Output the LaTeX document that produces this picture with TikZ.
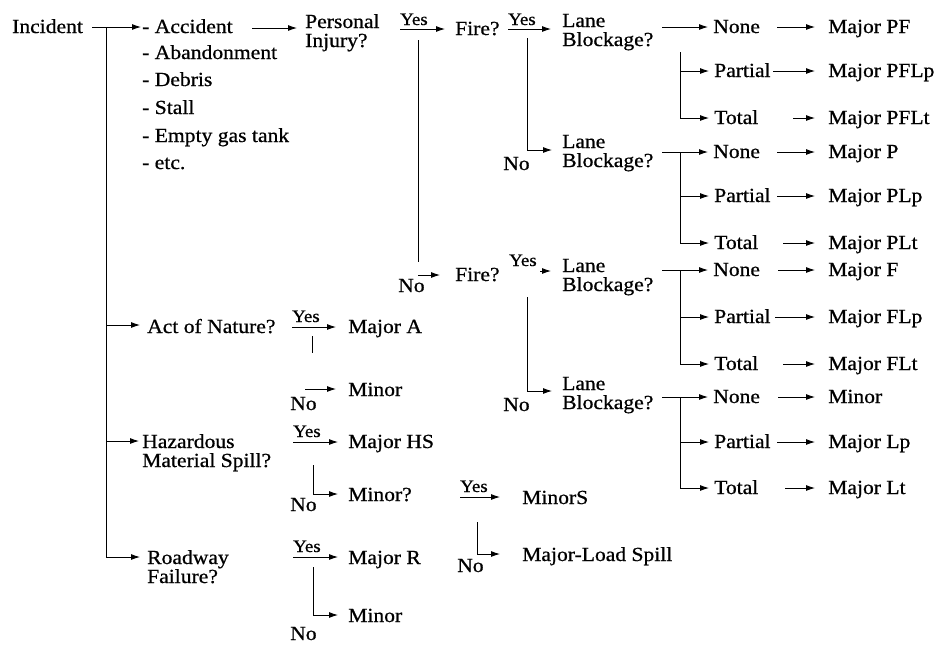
\documentclass[tikz,border=0pt]{standalone}
\usepackage{fontspec}
\setmainfont{Liberation Serif}[FakeStretch=1.08,FakeBold=0.7]
\usetikzlibrary{arrows.meta}
\begin{document}
\begin{tikzpicture}[x=1pt,y=-1pt,
  txt/.style={anchor=base west,inner sep=0pt,font=\fontsize{20}{19}\selectfont},
  yes/.style={anchor=base west,inner sep=0pt,font=\fontsize{17.5}{17}\selectfont},
  ln/.style={line width=0.9pt},
  arr/.style={line width=0.9pt,-{Latex[length=9pt,width=6pt]}},
]
\useasboundingbox[fill=white] (0,0) rectangle (938,646);

% ---------- column 1 ----------
\node[txt] (inc)   at (12,33)  {Incident};
\node[txt] (acc)   at (142,33) {- Accident};
\node[txt] (aban)  at (142,59) {- Abandonment};
\node[txt] (deb)   at (142,86) {- Debris};
\node[txt] (stall) at (142,114) {- Stall};
\node[txt] (empty) at (142,142) {- Empty gas tank};
\node[txt] (etc)   at (142,169) {- etc.};
\node[txt] (act)   at (147,333) {Act of Nature?};
\node[txt] (haz)   at (142,448) {Hazardous};
\node[txt] (mat)   at (142,467) {Material Spill?};
\node[txt] (road)  at (147,564) {Roadway};
\node[txt] (fail)  at (147,583) {Failure?};

\coordinate (t0) at (92,27);
\coordinate (t1) at (106,27);
\coordinate (t2) at (106,325);
\coordinate (t3) at (106,441);
\coordinate (t4) at (106,557);
\draw[arr,shorten >=1pt] (t0) -- (t0 -| acc.west);
\draw[arr,shorten >=7pt] (t1) -- (t4) -- (t4 -| road.west);
\draw[arr,shorten >=7pt] (t2) -- (t2 -| act.west);
\draw[arr,shorten >=3pt] (t3) -- (t3 -| haz.west);

% ---------- personal injury ----------
\node[txt] (pers) at (305,28) {Personal};
\node[txt] (inj)  at (305,47) {Injury?};
\coordinate (a1) at (252,28);
\draw[arr,shorten >=8pt] (a1) -- (a1 -| pers.west);

\node[txt] (fire1) at (455,35)  {Fire?};
\node[txt] (fire2) at (455,281) {Fire?};

\node[yes] (yp) at (400,25) {Yes};
\coordinate (yp0) at (400,29);
\draw[arr,shorten >=10pt] (yp0) -- (yp0 -| fire1.west);
\coordinate (vp0) at (418,40);
\coordinate (vp1) at (418,262);
\draw[ln] (vp0) -- (vp1);
\node[txt] (np) at (398,292) {No};
\coordinate (np0) at (418,275);
\draw[arr,shorten >=15pt] (np0) -- (np0 -| fire2.west);

% ---------- fire ----------
\node[txt] (lane1) at (562,27)  {Lane};
\node[txt] (blk1)  at (562,46)  {Blockage?};
\node[txt] (lane2) at (562,148) {Lane};
\node[txt] (blk2)  at (562,167) {Blockage?};
\node[txt] (lane3) at (562,272) {Lane};
\node[txt] (blk3)  at (562,291) {Blockage?};
\node[txt] (lane4) at (562,390) {Lane};
\node[txt] (blk4)  at (562,409) {Blockage?};

\node[yes] (yf1) at (508,25) {Yes};
\coordinate (yf10) at (508,29);
\draw[arr,shorten >=11pt] (yf10) -- (yf10 -| lane1.west);
\coordinate (vf1a) at (527,38);
\coordinate (vf1b) at (527,150);
\draw[arr,shorten >=10pt] (vf1a) -- (vf1b) -- (vf1b -| lane2.west);
\node[txt] (nf1) at (503,170) {No};

\node[yes] (yf2) at (509,266) {Yes};
\coordinate (yf20) at (540,271);
\draw[arr,shorten >=11pt] (yf20) -- (yf20 -| lane3.west);
\coordinate (vf2a) at (527,297);
\coordinate (vf2b) at (527,391);
\draw[arr,shorten >=10pt] (vf2a) -- (vf2b) -- (vf2b -| lane4.west);
\node[txt] (nf2) at (503,411) {No};

% ---------- group 1 ----------
\node[txt] (none1) at (713,33)  {None};
\node[txt] (part1) at (714,77)  {Partial};
\node[txt] (tot1)  at (714,124) {Total};
\node[txt] (m11)   at (828,33)  {Major PF};
\node[txt] (m12)   at (828,77)  {Major PFLp};
\node[txt] (m13)   at (828,124) {Major PFLt};
\coordinate (g1s) at (662,27);
\coordinate (g1v) at (680,52);
\coordinate (g1p) at (680,71);
\coordinate (g1t) at (680,118);
\draw[arr,shorten >=5pt] (g1s) -- (g1s -| none1.west);
\draw[arr,shorten >=5pt] (g1v) -- (g1t) -- (g1t -| tot1.west);
\draw[arr,shorten >=5pt] (g1p) -- (g1p -| part1.west);
\coordinate (g1n2) at (777,27);
\coordinate (g1p2) at (773,71);
\coordinate (g1t2) at (793,118);
\draw[arr,shorten >=13pt] (g1n2) -- (g1n2 -| m11.west);
\draw[arr,shorten >=13pt] (g1p2) -- (g1p2 -| m12.west);
\draw[arr,shorten >=13pt] (g1t2) -- (g1t2 -| m13.west);

% ---------- group 2 ----------
\node[txt] (none2) at (713,158) {None};
\node[txt] (part2) at (714,202) {Partial};
\node[txt] (tot2)  at (714,249) {Total};
\node[txt] (m21)   at (828,158) {Major P};
\node[txt] (m22)   at (828,202) {Major PLp};
\node[txt] (m23)   at (828,249) {Major PLt};
\coordinate (g2s) at (662,152);
\coordinate (g2v) at (680,152);
\coordinate (g2p) at (680,196);
\coordinate (g2t) at (680,243);
\draw[arr,shorten >=5pt] (g2s) -- (g2s -| none2.west);
\draw[arr,shorten >=5pt] (g2v) -- (g2t) -- (g2t -| tot2.west);
\draw[arr,shorten >=5pt] (g2p) -- (g2p -| part2.west);
\coordinate (g2n2) at (777,152);
\coordinate (g2p2) at (777,196);
\coordinate (g2t2) at (783,243);
\draw[arr,shorten >=13pt] (g2n2) -- (g2n2 -| m21.west);
\draw[arr,shorten >=13pt] (g2p2) -- (g2p2 -| m22.west);
\draw[arr,shorten >=13pt] (g2t2) -- (g2t2 -| m23.west);

% ---------- group 3 ----------
\node[txt] (none3) at (713,276) {None};
\node[txt] (part3) at (714,323) {Partial};
\node[txt] (tot3)  at (714,370) {Total};
\node[txt] (m31)   at (828,276) {Major F};
\node[txt] (m32)   at (828,323) {Major FLp};
\node[txt] (m33)   at (828,370) {Major FLt};
\coordinate (g3s) at (662,270);
\coordinate (g3v) at (680,270);
\coordinate (g3p) at (680,317);
\coordinate (g3t) at (680,364);
\draw[arr,shorten >=5pt] (g3s) -- (g3s -| none3.west);
\draw[arr,shorten >=5pt] (g3v) -- (g3t) -- (g3t -| tot3.west);
\draw[arr,shorten >=5pt] (g3p) -- (g3p -| part3.west);
\coordinate (g3n2) at (778,270);
\coordinate (g3p2) at (775,317);
\coordinate (g3t2) at (783,364);
\draw[arr,shorten >=13pt] (g3n2) -- (g3n2 -| m31.west);
\draw[arr,shorten >=13pt] (g3p2) -- (g3p2 -| m32.west);
\draw[arr,shorten >=13pt] (g3t2) -- (g3t2 -| m33.west);

% ---------- group 4 ----------
\node[txt] (none4) at (713,403) {None};
\node[txt] (part4) at (714,448) {Partial};
\node[txt] (tot4)  at (714,494) {Total};
\node[txt] (m41)   at (828,403) {Minor};
\node[txt] (m42)   at (828,448) {Major Lp};
\node[txt] (m43)   at (828,494) {Major Lt};
\coordinate (g4s) at (662,397);
\coordinate (g4v) at (680,397);
\coordinate (g4p) at (680,442);
\coordinate (g4t) at (680,488);
\draw[arr,shorten >=5pt] (g4s) -- (g4s -| none4.west);
\draw[arr,shorten >=5pt] (g4v) -- (g4t) -- (g4t -| tot4.west);
\draw[arr,shorten >=5pt] (g4p) -- (g4p -| part4.west);
\coordinate (g4n2) at (778,397);
\coordinate (g4p2) at (777,442);
\coordinate (g4t2) at (785,488);
\draw[arr,shorten >=13pt] (g4n2) -- (g4n2 -| m41.west);
\draw[arr,shorten >=13pt] (g4p2) -- (g4p2 -| m42.west);
\draw[arr,shorten >=13pt] (g4t2) -- (g4t2 -| m43.west);

% ---------- act of nature ----------
\node[txt] (majA) at (348,333) {Major A};
\node[txt] (minA) at (348,396) {Minor};
\node[yes] (ya) at (292,322) {Yes};
\coordinate (ya0) at (292,327);
\draw[arr,shorten >=12pt] (ya0) -- (ya0 -| majA.west);
\coordinate (sa0) at (312,336);
\coordinate (sa1) at (312,353);
\draw[ln] (sa0) -- (sa1);
\node[txt] (na) at (290,410) {No};
\coordinate (na0) at (305,389);
\draw[arr,shorten >=12pt] (na0) -- (na0 -| minA.west);

% ---------- hazardous material ----------
\node[txt] (majHS) at (348,448) {Major HS};
\node[txt] (minq)  at (348,501) {Minor?};
\node[yes] (yh) at (293,437) {Yes};
\coordinate (yh0) at (293,442);
\draw[arr,shorten >=10pt] (yh0) -- (yh0 -| majHS.west);
\coordinate (vh0) at (313,465);
\coordinate (vh1) at (313,494);
\draw[arr,shorten >=10pt] (vh0) -- (vh1) -- (vh1 -| minq.west);
\node[txt] (nh) at (290,511) {No};

\node[txt] (minS) at (522,504) {MinorS};
\node[txt] (mls)  at (522,561) {Major-Load Spill};
\node[yes] (yms) at (460,492) {Yes};
\coordinate (yms0) at (460,497);
\draw[arr,shorten >=22pt] (yms0) -- (yms0 -| minS.west);
\coordinate (vms0) at (477,522);
\coordinate (vms1) at (477,554);
\draw[arr,shorten >=22pt] (vms0) -- (vms1) -- (vms1 -| mls.west);
\node[txt] (nms) at (457,572) {No};

% ---------- roadway failure ----------
\node[txt] (majR) at (348,564) {Major R};
\node[txt] (minR) at (348,622) {Minor};
\node[yes] (yr) at (293,552) {Yes};
\coordinate (yr0) at (293,557);
\draw[arr,shorten >=10pt] (yr0) -- (yr0 -| majR.west);
\coordinate (vr0) at (313,567);
\coordinate (vr1) at (313,615);
\draw[arr,shorten >=10pt] (vr0) -- (vr1) -- (vr1 -| minR.west);
\node[txt] (nr) at (290,640) {No};
\end{tikzpicture}
\end{document}
